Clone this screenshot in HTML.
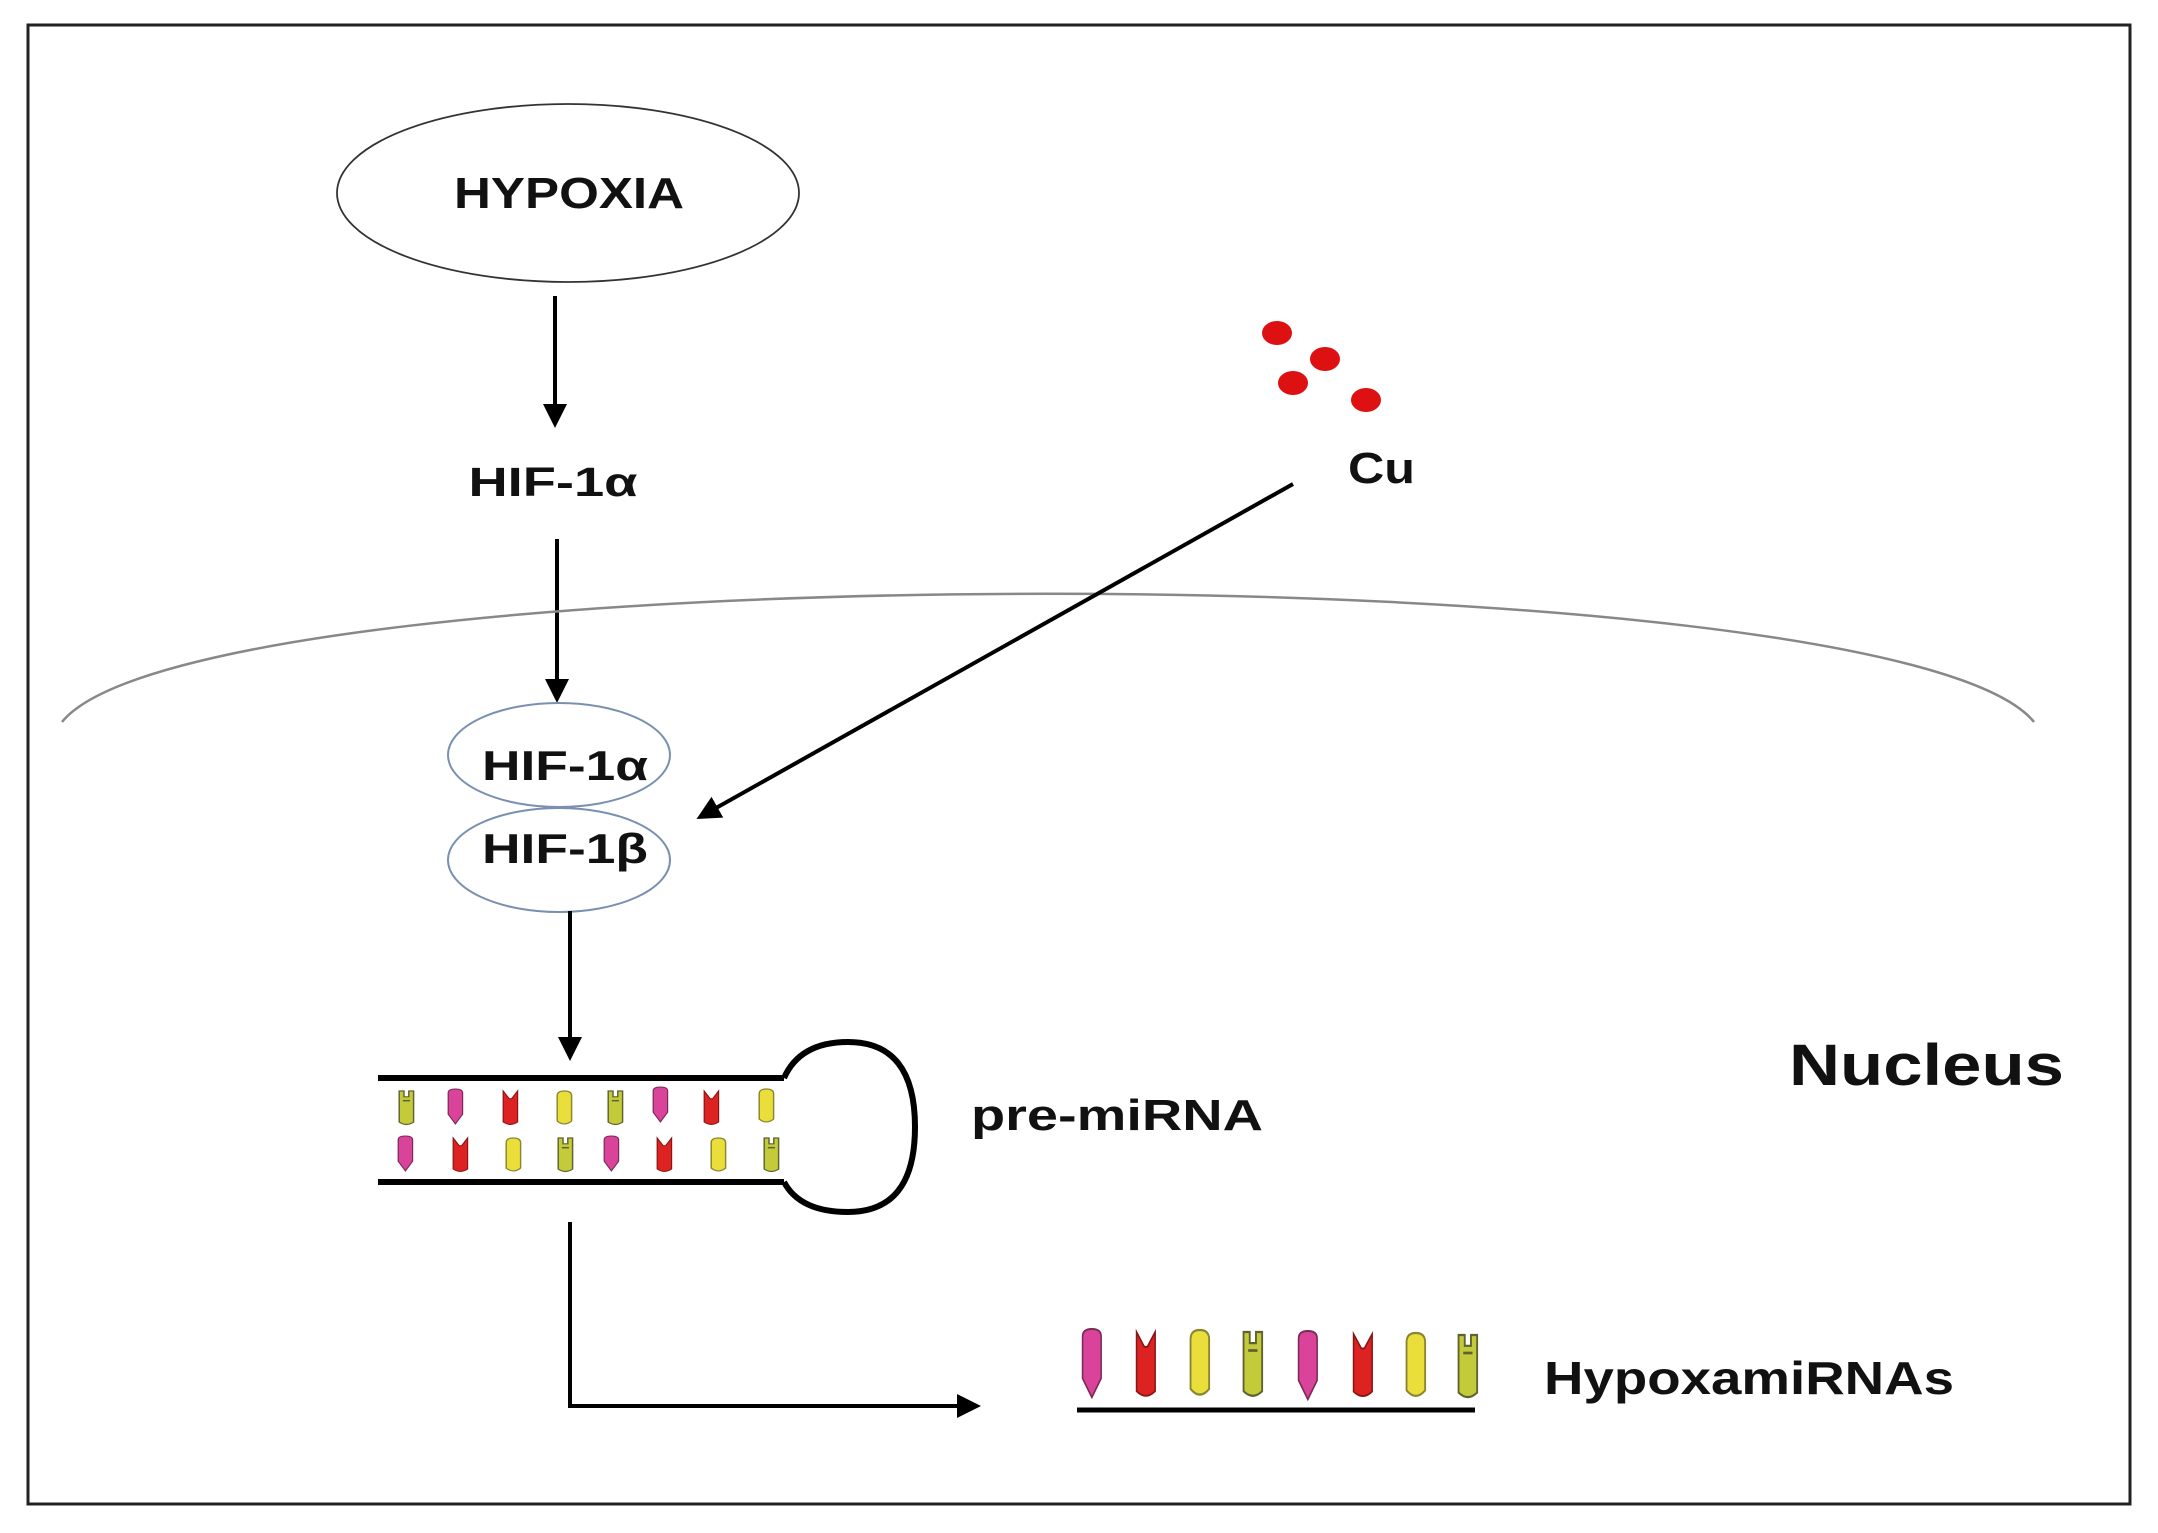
<!DOCTYPE html>
<html><head><meta charset="utf-8"><style>
html,body{margin:0;padding:0;background:#fff;}
svg{display:block;}
text{font-family:"Liberation Sans",sans-serif;font-weight:bold;fill:#111;}
</style></head><body>
<svg width="2158" height="1533" viewBox="0 0 2158 1533" xmlns="http://www.w3.org/2000/svg">
<defs>
<marker id="ah" markerWidth="6" markerHeight="6" refX="5" refY="3" orient="auto" markerUnits="strokeWidth">
<path d="M0,0 L6,3 L0,6 Z" fill="#000"/>
</marker>
<g id="pk"><path d="M1,4 Q1,0 7,0 Q13,0 13,4 L13,26 L7,36 L1,26 Z" fill="#d9449a" stroke="#7a2a55" stroke-width="1"/></g>
<g id="rd"><path d="M1,0 L6,8 L8,8 L13,0 L13,32 Q7,37 1,32 Z" fill="#dd2222" stroke="#8a1515" stroke-width="1"/></g>
<g id="ye"><path d="M1,5 Q1,0 7,0 Q13,0 13,5 L13,31 Q7,37 1,31 Z" fill="#eadf3a" stroke="#8a8530" stroke-width="1.2"/></g>
<g id="ol"><path d="M1,0 L5,0 L5,6 L9,6 L9,0 L13,0 L13,32 Q7,37 1,32 Z" fill="#c3cb3a" stroke="#5f6230" stroke-width="1.2"/><line x1="4" y1="10" x2="10" y2="10" stroke="#5f6230" stroke-width="1.5"/></g>
</defs>
<rect x="28" y="25" width="2102" height="1479" fill="none" stroke="#222" stroke-width="3"/>
<ellipse cx="568" cy="193" rx="231" ry="89" fill="none" stroke="#333" stroke-width="1.8"/>
<text x="569" y="208" font-size="44" text-anchor="middle" textLength="230" lengthAdjust="spacingAndGlyphs">HYPOXIA</text>
<line x1="555" y1="296" x2="555" y2="424" stroke="#000" stroke-width="4" marker-end="url(#ah)"/>
<text x="553" y="496" font-size="41" text-anchor="middle" textLength="169" lengthAdjust="spacingAndGlyphs">HIF-1α</text>
<line x1="557" y1="539" x2="557" y2="699" stroke="#000" stroke-width="4" marker-end="url(#ah)"/>
<path d="M62,722 C200,551 1896,551 2034,722" fill="none" stroke="#888" stroke-width="2.5"/>
<ellipse cx="559" cy="755" rx="111" ry="52" fill="#fff" stroke="#7a90b0" stroke-width="2"/>
<ellipse cx="559" cy="860" rx="111" ry="52" fill="#fff" stroke="#7a90b0" stroke-width="2"/>
<text x="565" y="780" font-size="42" text-anchor="middle" textLength="166" lengthAdjust="spacingAndGlyphs">HIF-1α</text>
<text x="565" y="863" font-size="42" text-anchor="middle" textLength="166" lengthAdjust="spacingAndGlyphs">HIF-1β</text>
<ellipse cx="1277" cy="333" rx="15" ry="12" fill="#dd1111"/>
<ellipse cx="1325" cy="359" rx="15" ry="12" fill="#dd1111"/>
<ellipse cx="1293" cy="383" rx="15" ry="12" fill="#dd1111"/>
<ellipse cx="1366" cy="400" rx="15" ry="12" fill="#dd1111"/>
<text x="1348" y="483" font-size="44" textLength="67" lengthAdjust="spacingAndGlyphs">Cu</text>
<line x1="1293" y1="484" x2="700" y2="817" stroke="#000" stroke-width="4" marker-end="url(#ah)"/>
<line x1="570" y1="911" x2="570" y2="1057" stroke="#000" stroke-width="4" marker-end="url(#ah)"/>
<!-- pre-miRNA -->
<line x1="378" y1="1078" x2="784" y2="1078" stroke="#000" stroke-width="6"/>
<line x1="378" y1="1182" x2="784" y2="1182" stroke="#000" stroke-width="6"/>
<path d="M784,1078 Q800,1042 848,1042 Q915,1042 915,1127 Q915,1212 848,1212 Q800,1212 784,1182" fill="none" stroke="#000" stroke-width="6"/>
<g>
<use href="#ol" transform="translate(398,1091) scale(1.2,0.97)"/>
<use href="#pk" transform="translate(447,1089) scale(1.2,0.97)"/>
<use href="#rd" transform="translate(502,1091) scale(1.2,0.97)"/>
<use href="#ye" transform="translate(556,1091) scale(1.2,0.97)"/>
<use href="#ol" transform="translate(607,1091) scale(1.2,0.97)"/>
<use href="#pk" transform="translate(652,1087) scale(1.2,0.97)"/>
<use href="#rd" transform="translate(703,1091) scale(1.2,0.97)"/>
<use href="#ye" transform="translate(758,1089) scale(1.2,0.97)"/>
<use href="#pk" transform="translate(397,1136) scale(1.2,0.97)"/>
<use href="#rd" transform="translate(452,1138) scale(1.2,0.97)"/>
<use href="#ye" transform="translate(505,1138) scale(1.2,0.97)"/>
<use href="#ol" transform="translate(557,1138) scale(1.2,0.97)"/>
<use href="#pk" transform="translate(603,1136) scale(1.2,0.97)"/>
<use href="#rd" transform="translate(656,1138) scale(1.2,0.97)"/>
<use href="#ye" transform="translate(710,1138) scale(1.2,0.97)"/>
<use href="#ol" transform="translate(763,1138) scale(1.2,0.97)"/>
</g>
<text x="971" y="1130" font-size="44" textLength="292" lengthAdjust="spacingAndGlyphs">pre-miRNA</text>
<text x="1789" y="1085" font-size="58" textLength="275" lengthAdjust="spacingAndGlyphs">Nucleus</text>
<path d="M570,1222 L570,1406 L977,1406" fill="none" stroke="#000" stroke-width="4" marker-end="url(#ah)"/>
<g>
<use href="#pk" transform="translate(1081,1329) scale(1.55,1.9)"/>
<use href="#rd" transform="translate(1135,1332) scale(1.55,1.85)"/>
<use href="#ye" transform="translate(1189,1330) scale(1.55,1.9)"/>
<use href="#ol" transform="translate(1242,1332) scale(1.55,1.85)"/>
<use href="#pk" transform="translate(1297,1331) scale(1.55,1.9)"/>
<use href="#rd" transform="translate(1352,1334) scale(1.55,1.8)"/>
<use href="#ye" transform="translate(1405,1333) scale(1.55,1.85)"/>
<use href="#ol" transform="translate(1457,1335) scale(1.55,1.8)"/>
</g>
<line x1="1077" y1="1410" x2="1475" y2="1410" stroke="#000" stroke-width="5"/>
<text x="1544" y="1394" font-size="46" textLength="410" lengthAdjust="spacingAndGlyphs">HypoxamiRNAs</text>
</svg>
</body></html>
